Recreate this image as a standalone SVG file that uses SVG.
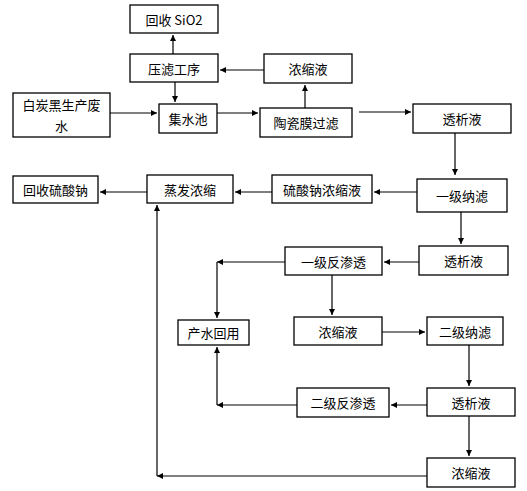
<svg xmlns="http://www.w3.org/2000/svg" width="527" height="491" viewBox="0 0 527 491">
<defs>
<style>
.box{fill:#fff;stroke:#000;stroke-width:1.3}
.t{font-family:"Noto Sans CJK SC","Liberation Sans",sans-serif;font-size:13px;fill:#000;text-anchor:middle;dominant-baseline:central}
.c{fill:none;stroke:#000;stroke-width:1.2}
</style>
<marker id="a" viewBox="0 0 10 10" refX="10" refY="5" markerWidth="6" markerHeight="6" markerUnits="userSpaceOnUse" orient="auto"><path d="M0,0L10,5L0,10z" fill="#000"/></marker>
</defs>
<rect width="527" height="491" fill="#fff"/>
<g id="connectors">
<line class="c" x1="173" y1="54" x2="173" y2="35" marker-end="url(#a)"/>
<line class="c" x1="175" y1="82" x2="175" y2="102" marker-end="url(#a)"/>
<line class="c" x1="264" y1="70" x2="220" y2="70" marker-end="url(#a)"/>
<line class="c" x1="110" y1="113" x2="157" y2="113" marker-end="url(#a)"/>
<line class="c" x1="217" y1="113" x2="258" y2="113" marker-end="url(#a)"/>
<line class="c" x1="305" y1="108" x2="305" y2="85" marker-end="url(#a)"/>
<line class="c" x1="359" y1="112" x2="411" y2="112" marker-end="url(#a)"/>
<line class="c" x1="455" y1="133" x2="455" y2="175" marker-end="url(#a)"/>
<line class="c" x1="417" y1="192" x2="374" y2="192" marker-end="url(#a)"/>
<line class="c" x1="272" y1="192" x2="235" y2="192" marker-end="url(#a)"/>
<line class="c" x1="147" y1="192" x2="100" y2="192" marker-end="url(#a)"/>
<line class="c" x1="461" y1="212" x2="461" y2="244" marker-end="url(#a)"/>
<line class="c" x1="419" y1="262" x2="384" y2="262" marker-end="url(#a)"/>
<line class="c" x1="285" y1="262" x2="217" y2="262" marker-end="url(#a)"/>
<line class="c" x1="217" y1="262" x2="217" y2="318" marker-end="url(#a)"/>
<line class="c" x1="332" y1="275" x2="332" y2="315" marker-end="url(#a)"/>
<line class="c" x1="382" y1="332" x2="425" y2="332" marker-end="url(#a)"/>
<line class="c" x1="469" y1="345" x2="469" y2="386" marker-end="url(#a)"/>
<line class="c" x1="427" y1="405" x2="391" y2="405" marker-end="url(#a)"/>
<line class="c" x1="297" y1="405" x2="217" y2="405" marker-end="url(#a)"/>
<line class="c" x1="217" y1="405" x2="217" y2="347" marker-end="url(#a)"/>
<line class="c" x1="469" y1="416" x2="469" y2="456" marker-end="url(#a)"/>
<line class="c" x1="427" y1="476" x2="157" y2="476" marker-end="url(#a)"/>
<line class="c" x1="157" y1="476" x2="157" y2="205" marker-end="url(#a)"/>
</g>
<g id="n_sio2"><rect class="box" x="130" y="5" width="88" height="28"/><text class="t" x="174" y="19">回收 SiO2</text></g>
<g id="n_press"><rect class="box" x="130" y="54" width="88" height="28"/><text class="t" x="174" y="68">压滤工序</text></g>
<g id="n_conc1"><rect class="box" x="264" y="54" width="88" height="29"/><text class="t" x="308" y="68.5">浓缩液</text></g>
<g id="n_waste"><rect class="box" x="13" y="93" width="97" height="44"/><text class="t" x="61.5" y="104">白炭黑生产废</text><text class="t" x="61.5" y="125">水</text></g>
<g id="n_pool"><rect class="box" x="159" y="104" width="58" height="29"/><text class="t" x="188" y="118.5">集水池</text></g>
<g id="n_ceramic"><rect class="box" x="260" y="108" width="92" height="29"/><text class="t" x="306" y="122.5">陶瓷膜过滤</text></g>
<g id="n_dia1"><rect class="box" x="413" y="104" width="98" height="29"/><text class="t" x="462" y="118.5">透析液</text></g>
<g id="n_na2so4"><rect class="box" x="13" y="176" width="85" height="27"/><text class="t" x="55.5" y="189.5">回收硫酸钠</text></g>
<g id="n_evap"><rect class="box" x="147" y="175" width="86" height="28"/><text class="t" x="190" y="189">蒸发浓缩</text></g>
<g id="n_naconc"><rect class="box" x="272" y="175" width="100" height="28"/><text class="t" x="322" y="189">硫酸钠浓缩液</text></g>
<g id="n_nf1"><rect class="box" x="417" y="179" width="90" height="33"/><text class="t" x="462" y="195.5">一级纳滤</text></g>
<g id="n_dia2"><rect class="box" x="419" y="246" width="89" height="29"/><text class="t" x="463.5" y="260.5">透析液</text></g>
<g id="n_ro1"><rect class="box" x="285" y="247" width="97" height="28"/><text class="t" x="333.5" y="261">一级反渗透</text></g>
<g id="n_reuse"><rect class="box" x="178" y="320" width="71" height="25"/><text class="t" x="213.5" y="332.5">产水回用</text></g>
<g id="n_conc2"><rect class="box" x="294" y="317" width="88" height="28"/><text class="t" x="338" y="331">浓缩液</text></g>
<g id="n_nf2"><rect class="box" x="427" y="317" width="76" height="28"/><text class="t" x="465" y="331">二级纳滤</text></g>
<g id="n_ro2"><rect class="box" x="297" y="388" width="92" height="29"/><text class="t" x="343" y="402.5">二级反渗透</text></g>
<g id="n_dia3"><rect class="box" x="427" y="388" width="88" height="28"/><text class="t" x="471" y="402">透析液</text></g>
<g id="n_conc3"><rect class="box" x="427" y="458" width="88" height="29"/><text class="t" x="471" y="472.5">浓缩液</text></g>
</svg>
